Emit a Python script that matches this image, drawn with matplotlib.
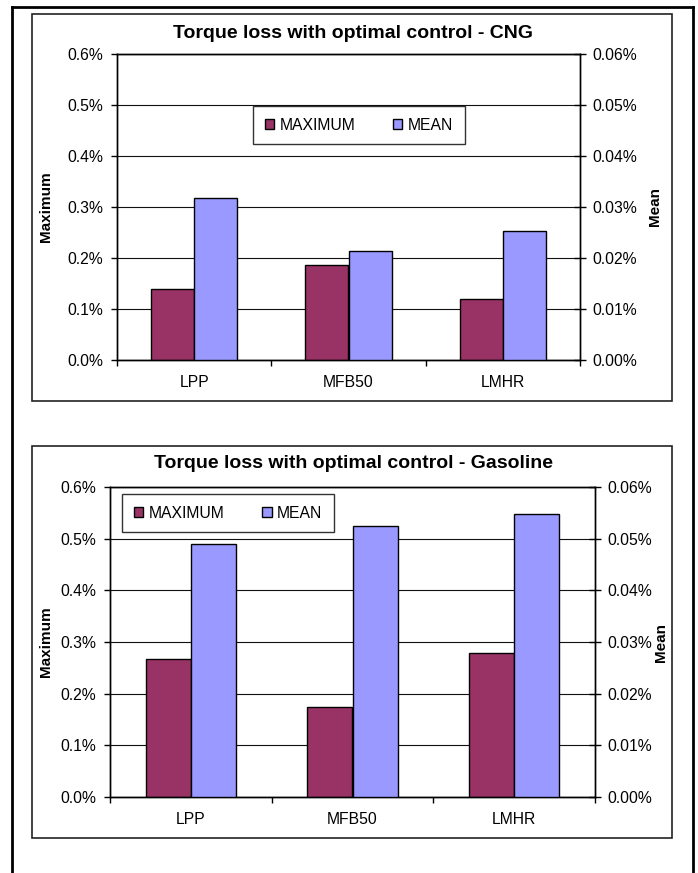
import matplotlib

matplotlib.use("Agg")
import matplotlib.pyplot as plt
from matplotlib.lines import Line2D
from matplotlib.patches import Rectangle
from matplotlib.ticker import FuncFormatter, MultipleLocator

plt.rcParams["font.family"] = ["Liberation Sans", "DejaVu Sans"]

categories = ["LPP", "MFB50", "LMHR"]
series_names = ["MAXIMUM", "MEAN"]

# values in percent
cng_max = [0.139, 0.186, 0.120]
cng_mean = [0.0318, 0.0214, 0.0253]
gas_max = [0.267, 0.174, 0.279]
gas_mean = [0.0489, 0.0524, 0.0547]

titles = [
    "Torque loss with optimal control - CNG",
    "Torque loss with optimal control - Gasoline",
]

MAX_COLOR = "#993366"
MEAN_COLOR = "#9999FF"
TICK_FS = 11.3
PX = 0.72  # points per pixel at dpi 100

W, H = 698, 873
fig = plt.figure(figsize=(W / 100, H / 100), dpi=100)


def fx(px):
    return px / W


def fy(py):
    return 1 - py / H


# outer page frame (bottom edge runs off the picture)
for xs, ys in [((12, 12), (7, 873)), ((12, 693), (7, 7)), ((693, 693), (7, 873))]:
    fig.add_artist(Line2D([fx(x) for x in xs], [fy(y) for y in ys], color="black", lw=2))


def draw_chart(box, plot, title, title_y, max_vals, mean_vals, legend_center,
               label_y, mean_label_x):
    bx0, by0, bx1, by1 = box
    fig.add_artist(Rectangle((fx(bx0), fy(by1)), fx(bx1 - bx0), (by1 - by0) / H,
                             fill=False, edgecolor="#222222", lw=1.2))

    px0, py0, px1, py1 = plot
    ax = fig.add_axes([fx(px0), fy(py1), fx(px1 - px0), (py1 - py0) / H])
    ax2 = ax.twinx()

    x = list(range(len(categories)))
    w = 0.28
    ax.bar([i - w / 2 for i in x], max_vals, width=w, color=MAX_COLOR,
           edgecolor="black", lw=1, label=series_names[0], zorder=3)
    ax2.bar([i + w / 2 for i in x], mean_vals, width=w, color=MEAN_COLOR,
            edgecolor="black", lw=1, label=series_names[1], zorder=3)

    ax.set_xlim(-0.5, 2.5)
    ax.set_ylim(0, 0.6)
    ax2.set_ylim(0, 0.06)
    ax.yaxis.set_major_locator(MultipleLocator(0.1))
    ax2.yaxis.set_major_locator(MultipleLocator(0.01))
    ax.yaxis.set_major_formatter(FuncFormatter(lambda v, p: f"{v:.1f}%"))
    ax2.yaxis.set_major_formatter(FuncFormatter(lambda v, p: f"{v:.2f}%"))
    ax.grid(axis="y", color="#111111", lw=0.8, zorder=0)
    ax.set_axisbelow(True)

    ax.set_xticks(x)
    ax.set_xticklabels(categories)
    ax.set_xticks([-0.5, 0.5, 1.5, 2.5], minor=True)
    ax.tick_params(axis="x", which="major", length=0, pad=11, labelsize=TICK_FS)
    ax.tick_params(axis="x", which="minor", length=6 * PX, direction="out", width=1)
    ax.tick_params(axis="y", length=6 * PX, direction="out", pad=8 * PX,
                   labelsize=TICK_FS, width=1)
    ax2.tick_params(axis="y", length=12 * PX, direction="inout", pad=6 * PX,
                    labelsize=TICK_FS, width=1)

    for a in (ax, ax2):
        for s in a.spines.values():
            s.set_linewidth(1)

    fig.text(fx((bx0 + bx1) / 2 + 1), fy(title_y), title, ha="center", va="center",
             fontsize=14, fontweight="bold")
    fig.text(fx(46), fy(label_y), "Maximum", rotation=90, ha="center", va="center",
             fontsize=11, fontweight="bold")
    fig.text(fx(mean_label_x), fy(label_y), "Mean", rotation=90, ha="center",
             va="center", fontsize=11, fontweight="bold")

    handles = [Rectangle((0, 0), 1, 1, facecolor=MAX_COLOR, edgecolor="black", lw=1),
               Rectangle((0, 0), 1, 1, facecolor=MEAN_COLOR, edgecolor="black", lw=1)]
    leg = fig.legend(handles, series_names, loc="center",
                     bbox_to_anchor=(fx(legend_center[0]), fy(legend_center[1])),
                     ncol=2, fontsize=11.3, frameon=True, fancybox=False,
                     edgecolor="black", handlelength=0.6, handleheight=0.6,
                     handletextpad=0.35, columnspacing=2.4, borderpad=0.75,
                     borderaxespad=0)
    leg.get_frame().set_linewidth(1)
    return ax


draw_chart((32, 14, 672, 401), (117, 54, 580, 360), titles[0], 33,
           cng_max, cng_mean, (359, 125), 207, 655)
draw_chart((32, 446, 672, 838), (110, 487, 595, 797), titles[1], 463,
           gas_max, gas_mean, (228, 513), 642, 661)

fig.savefig("out.png", dpi=100)
